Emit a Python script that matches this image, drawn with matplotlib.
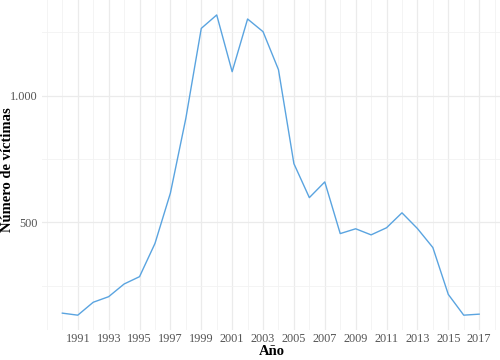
import matplotlib
matplotlib.use("Agg")
import matplotlib.pyplot as plt
from matplotlib.ticker import FuncFormatter, MultipleLocator

years = list(range(1990, 2018))
victims = [141, 133, 184, 206, 256, 285, 416, 615, 910, 1265, 1318, 1094, 1302, 1252,
           1102, 731, 597, 659, 455, 474, 450, 478, 537, 475, 400, 215, 133, 137]
xticks = list(range(1991, 2018, 2))
yticks = [500, 1000]

plt.rcParams['font.family'] = ['Liberation Serif', 'DejaVu Serif']
fig = plt.figure(figsize=(5, 3.6), dpi=100)
ax = fig.add_axes([0.083, 0.083, 0.917, 0.917])

ax.plot(years, victims, color='#5aa4e0', lw=1.0)

ax.set_xlim(1988.65, 2018.35)
ax.set_ylim(74, 1377)
ax.set_xticks(xticks)
ax.xaxis.set_minor_locator(MultipleLocator(1))
ax.set_yticks(yticks)
ax.yaxis.set_minor_locator(MultipleLocator(250))
ax.yaxis.set_major_formatter(FuncFormatter(lambda v, p: f"{int(v):,}".replace(",", ".")))

ax.grid(which='major', color='#ebebeb', lw=0.9)
ax.grid(which='minor', color='#f2f2f2', lw=0.6)
ax.set_axisbelow(True)
for s in ax.spines.values():
    s.set_visible(False)
ax.tick_params(which='both', length=0, labelsize=8.8, colors='#555555', pad=3)
ax.tick_params(axis='x', pad=2)

fig.text(0.544, 0.006, 'Año', fontsize=10.5, fontweight='bold', ha='center', va='bottom')
fig.text(0.016, 0.53, 'Número de víctimas', fontsize=10.5, fontweight='bold',
         ha='center', va='center', rotation=90)

fig.savefig('out.png', dpi=100)
